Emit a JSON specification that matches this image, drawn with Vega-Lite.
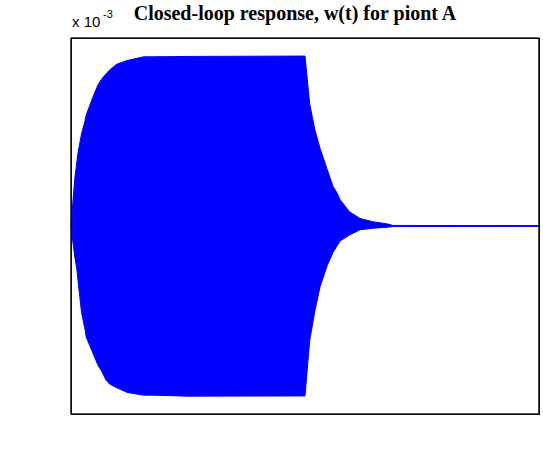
{
  "$schema": "https://vega.github.io/schema/vega-lite/v6.json",
  "width": 468,
  "height": 376,
  "autosize": "none",
  "padding": {"left": 71, "top": 38, "right": 4, "bottom": 57},
  "background": "white",
  "title": {
    "text": "Closed-loop response, w(t) for piont A",
    "font": "Liberation Serif",
    "fontSize": 20,
    "fontWeight": "bold",
    "color": "black",
    "anchor": "middle",
    "dx": -10,
    "offset": -15
  },
  "config": {
    "view": {"stroke": "#030303", "strokeWidth": 1.2},
    "axis": {
      "grid": false,
      "domainColor": "#030303",
      "domainWidth": 1.2,
      "tickColor": "#030303",
      "tickWidth": 1.2,
      "tickSize": 4,
      "labelFont": "Liberation Sans",
      "labelFontSize": 14,
      "labelColor": "black",
      "titleFont": "Liberation Sans",
      "titleFontSize": 22,
      "titleFontWeight": "normal",
      "titleColor": "black"
    }
  },
  "datasets": {
    "env": [
      {"t": 0.0, "hi": 0.0, "lo": 0.0},
      {"t": 0.015, "hi": 0.12, "lo": -0.08},
      {"t": 0.034, "hi": 0.26, "lo": -0.17},
      {"t": 0.05, "hi": 0.34, "lo": -0.23},
      {"t": 0.06, "hi": 0.39, "lo": -0.29},
      {"t": 0.09, "hi": 0.49, "lo": -0.46},
      {"t": 0.12, "hi": 0.56, "lo": -0.55},
      {"t": 0.13, "hi": 0.59, "lo": -0.59},
      {"t": 0.19, "hi": 0.69, "lo": -0.68},
      {"t": 0.23, "hi": 0.75, "lo": -0.74},
      {"t": 0.26, "hi": 0.78, "lo": -0.77},
      {"t": 0.30, "hi": 0.81, "lo": -0.82},
      {"t": 0.33, "hi": 0.83, "lo": -0.84},
      {"t": 0.39, "hi": 0.86, "lo": -0.86},
      {"t": 0.48, "hi": 0.88, "lo": -0.885},
      {"t": 0.62, "hi": 0.90, "lo": -0.90},
      {"t": 0.70, "hi": 0.90, "lo": -0.90},
      {"t": 1.0, "hi": 0.902, "lo": -0.905},
      {"t": 2.0, "hi": 0.904, "lo": -0.904},
      {"t": 2.04, "hi": 0.65, "lo": -0.61},
      {"t": 2.085, "hi": 0.51, "lo": -0.45},
      {"t": 2.13, "hi": 0.41, "lo": -0.32},
      {"t": 2.19, "hi": 0.30, "lo": -0.21},
      {"t": 2.24, "hi": 0.21, "lo": -0.14},
      {"t": 2.27, "hi": 0.18, "lo": -0.11},
      {"t": 2.30, "hi": 0.14, "lo": -0.08},
      {"t": 2.38, "hi": 0.076, "lo": -0.048},
      {"t": 2.47, "hi": 0.04, "lo": -0.02},
      {"t": 2.58, "hi": 0.023, "lo": -0.012},
      {"t": 2.71, "hi": 0.01, "lo": -0.006},
      {"t": 2.75, "hi": 0.003, "lo": -0.003},
      {"t": 4.0, "hi": 0.002, "lo": -0.002}
    ],
    "frame": [
      {"xa": 0, "ya": -1, "xb": 0, "yb": 1},
      {"xa": 4, "ya": -1, "xb": 4, "yb": 1},
      {"xa": 0, "ya": -1, "xb": 4, "yb": -1},
      {"xa": 0, "ya": 1, "xb": 4, "yb": 1}
    ],
    "exponent": [
      {"t": 0, "w": 1, "base": "x 10", "pow": "-3"}
    ]
  },
  "layer": [
    {
      "data": {"name": "env"},
      "mark": {"type": "area", "color": "#0000FF", "stroke": "#0000FF", "strokeWidth": 1},
      "encoding": {
        "x": {
          "field": "t", "type": "quantitative",
          "scale": {"domain": [0, 4], "nice": false, "zero": false},
          "axis": {
            "orient": "bottom",
            "values": [0, 0.5, 1, 1.5, 2, 2.5, 3, 3.5, 4],
            "labelExpr": "'' + datum.value",
            "title": "Time (sec)",
            "labelPadding": 5,
            "titlePadding": 4
          }
        },
        "y": {
          "field": "hi", "type": "quantitative",
          "scale": {"domain": [-1, 1], "nice": false, "zero": false},
          "axis": {
            "orient": "left",
            "values": [-1, -0.8, -0.6, -0.4, -0.2, 0, 0.2, 0.4, 0.6, 0.8, 1],
            "labelExpr": "'' + datum.value",
            "title": "w(t)  (meter)",
            "labelPadding": 1,
            "titlePadding": 6
          }
        },
        "y2": {"field": "lo"}
      }
    },
    {
      "data": {"name": "frame"},
      "mark": {"type": "rule", "color": "#030303", "strokeWidth": 1.2},
      "encoding": {
        "x": {"field": "xa", "type": "quantitative", "axis": null},
        "y": {"field": "ya", "type": "quantitative", "axis": null},
        "x2": {"field": "xb"},
        "y2": {"field": "yb"}
      }
    },
    {
      "data": {"name": "exponent"},
      "mark": {"type": "text", "align": "left", "baseline": "alphabetic", "dx": 1, "dy": -11, "font": "Liberation Sans", "fontSize": 15, "color": "black"},
      "encoding": {
        "x": {"field": "t", "type": "quantitative", "axis": null},
        "y": {"field": "w", "type": "quantitative", "axis": null},
        "text": {"field": "base"}
      }
    },
    {
      "data": {"name": "exponent"},
      "mark": {"type": "text", "align": "left", "baseline": "alphabetic", "dx": 32, "dy": -20, "font": "Liberation Sans", "fontSize": 11, "color": "black"},
      "encoding": {
        "x": {"field": "t", "type": "quantitative", "axis": null},
        "y": {"field": "w", "type": "quantitative", "axis": null},
        "text": {"field": "pow"}
      }
    }
  ]
}
